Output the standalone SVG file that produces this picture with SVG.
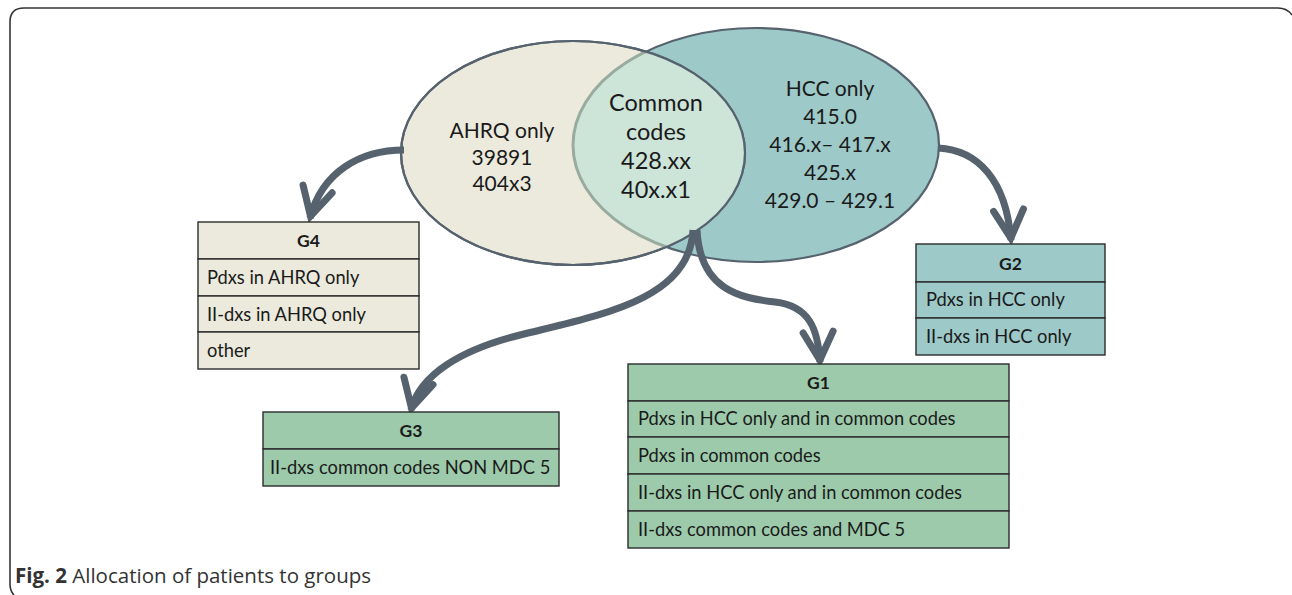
<svg xmlns="http://www.w3.org/2000/svg" width="1292" height="595" viewBox="0 0 1292 595">
<style>
.t{font-family:Lato,"Open Sans",sans-serif;fill:#1a1a1a}
.big{font-size:21px;text-anchor:middle}
.cm{font-size:23.5px}
.cell{font-size:18.3px}
.hd{font-size:17.5px;font-weight:bold;text-anchor:middle}
.box{stroke:#2b2b2b;stroke-width:1.4}
.beige{fill:#ebeadc}
.teal{fill:#9dc9c8}
.green{fill:#9ccaab}
.arr{fill:none;stroke:#56626e;stroke-width:7;marker-end:url(#chev)}
</style>
<defs>
<marker id="chev" markerUnits="userSpaceOnUse" viewBox="-40 -25 50 50" markerWidth="50" markerHeight="50" refX="0" refY="0" orient="auto">
<path d="M -30 -15 L -2 0 L -30 15" fill="none" stroke="#56626e" stroke-width="7" stroke-linecap="round" stroke-linejoin="miter"/>
</marker>
<clipPath id="clipL"><ellipse cx="573" cy="153" rx="172" ry="112"/></clipPath>
</defs>
<rect width="1292" height="595" fill="#fff"/>
<path d="M 14 595 Q 10 591 10 584 L 10 22 Q 10 8 24 8 L 1278 8 Q 1287 8 1292 15" fill="none" stroke="#333" stroke-width="1.6"/>

<g id="venn">
<g id="hcc">
<ellipse cx="756" cy="145" rx="183" ry="117" fill="#9dc9c8" stroke="#56626e" stroke-width="2.2"/>
</g>
<g id="ahrq">
<ellipse cx="573" cy="153" rx="172" ry="112" fill="#ebeadc" stroke="#56626e" stroke-width="2.2"/>
</g>
<g id="common">
<ellipse cx="756" cy="145" rx="183" ry="117" fill="#cde4d8" stroke="#98ab9e" stroke-width="3" clip-path="url(#clipL)"/>
<ellipse cx="573" cy="153" rx="172" ry="112" fill="none" stroke="#56626e" stroke-width="2.2"/>
</g>
<text class="t big" x="502" y="138">AHRQ only</text>
<text class="t big" x="502" y="165">39891</text>
<text class="t big" x="502" y="191">404x3</text>
<text class="t big cm" x="656" y="111">Common</text>
<text class="t big cm" x="656" y="140">codes</text>
<text class="t big cm" x="656" y="169">428.xx</text>
<text class="t big cm" x="656" y="198">40x.x1</text>
<text class="t big" x="830" y="96">HCC only</text>
<text class="t big" x="830" y="124">415.0</text>
<text class="t big" x="830" y="152">416.x– 417.x</text>
<text class="t big" x="830" y="180">425.x</text>
<text class="t big" x="830" y="208">429.0 – 429.1</text>
</g>

<g id="connectors">
<path class="arr" d="M 404 150 C 360 150 322 172 310 218"/>
<path class="arr" d="M 938 148 C 978 150 1006 180 1011 240"/>
<path class="arr" d="M 693 230 C 690 300 600 315 520 335 C 460 350 420 375 411 410"/>
<path class="arr" d="M 697 230 C 700 290 740 298 775 302 C 810 306 818 330 820 362"/>
</g>

<g id="G4">
<rect class="box beige" x="198" y="222" width="221" height="37"/>
<rect class="box beige" x="198" y="259" width="221" height="37"/>
<rect class="box beige" x="198" y="296" width="221" height="36"/>
<rect class="box beige" x="198" y="332" width="221" height="37"/>
<text class="t hd" x="308.5" y="247">G4</text>
<text class="t cell" x="207" y="284">Pdxs in AHRQ only</text>
<text class="t cell" x="207" y="321">II-dxs in AHRQ only</text>
<text class="t cell" x="207" y="357">other</text>
</g>

<g id="G3">
<rect class="box green" x="263" y="412" width="296" height="37"/>
<rect class="box green" x="263" y="449" width="296" height="37"/>
<text class="t hd" x="411" y="437">G3</text>
<text class="t cell" x="270" y="474">II-dxs common codes NON MDC 5</text>
</g>

<g id="G1">
<rect class="box green" x="628" y="364" width="381" height="37"/>
<rect class="box green" x="628" y="401" width="381" height="36"/>
<rect class="box green" x="628" y="437" width="381" height="37"/>
<rect class="box green" x="628" y="474" width="381" height="37"/>
<rect class="box green" x="628" y="511" width="381" height="37"/>
<text class="t hd" x="818.5" y="389">G1</text>
<text class="t cell" x="638" y="425">Pdxs in HCC only and in common codes</text>
<text class="t cell" x="638" y="462">Pdxs in common codes</text>
<text class="t cell" x="638" y="499">II-dxs in HCC only and in common codes</text>
<text class="t cell" x="638" y="536">II-dxs common codes and MDC 5</text>
</g>

<g id="G2">
<rect class="box teal" x="916" y="244" width="189" height="38"/>
<rect class="box teal" x="916" y="282" width="189" height="36"/>
<rect class="box teal" x="916" y="318" width="189" height="37"/>
<text class="t hd" x="1010.5" y="270">G2</text>
<text class="t cell" x="926" y="306">Pdxs in HCC only</text>
<text class="t cell" x="926" y="343">II-dxs in HCC only</text>
</g>

<g id="caption">
<text x="15" y="583" font-family="'Open Sans',Lato,sans-serif" font-size="20.5" fill="#333"><tspan font-weight="bold">Fig. 2</tspan> Allocation of patients to groups</text>
</g>
</svg>
